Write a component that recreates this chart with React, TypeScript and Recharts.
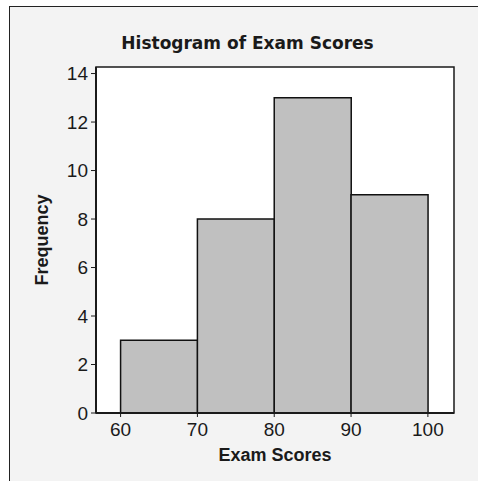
import {
  Bar,
  ComposedChart,
  ReferenceArea,
  XAxis,
  YAxis,
} from "recharts";

// bin midpoints (60-70, 70-80, 80-90, 90-100) and their counts
const binMids = [65, 75, 85, 95];
const counts = [3, 8, 13, 9];
const xTicks = [60, 70, 80, 90, 100];
const yTicks = [0, 2, 4, 6, 8, 10, 12, 14];
const xDomain = [56.8, 103.4];
const yDomain = [0, 14.27];

const data = binMids.map((mid, i) => ({ mid, count: counts[i] }));

const ink = "#1a1a1a";
const tickFont = { fill: ink, fontSize: 19, fontFamily: "Liberation Sans, Arial, sans-serif" };

function FrequencyLabel(props: any) {
  const vb = props.viewBox || {};
  const x = vb.x + 12;
  const y = vb.y + vb.height / 2;
  return (
    <text
      x={x}
      y={y}
      transform={`rotate(-90, ${x}, ${y})`}
      textAnchor="middle"
      fill={ink}
      fontSize={18}
      fontWeight="bold"
      fontFamily="Liberation Sans, Arial, sans-serif"
    >
      Frequency
    </text>
  );
}

export default function App() {
  return (
    <div style={{ position: "absolute", left: 0, top: 0, width: 478, height: 481, overflow: "hidden" }}>
      <div
        style={{
          position: "absolute",
          left: 9,
          top: 6,
          width: 480,
          height: 480,
          background: "#f3f3f3",
          borderLeft: "1px solid #222",
          borderTop: "1px solid #222",
        }}
      />
      <div
        style={{
          position: "absolute",
          left: 9,
          top: 33,
          width: 477,
          textAlign: "center",
          lineHeight: "20px",
          fontSize: 17,
          fontWeight: "bold",
          fontFamily: "DejaVu Sans, Verdana, sans-serif",
          color: ink,
        }}
      >
        Histogram of Exam Scores
      </div>
      <div style={{ position: "absolute", left: 0, top: 0 }}>
        <ComposedChart
          width={478}
          height={481}
          data={data}
          margin={{ top: 67, right: 24, bottom: 8, left: 36 }}
          barCategoryGap={0}
          barGap={0}
        >
          <XAxis
            dataKey="mid"
            type="number"
            domain={xDomain}
            ticks={xTicks}
            allowDataOverflow
            height={60}
            tickSize={4}
            tickMargin={6}
            tick={tickFont}
            axisLine={{ stroke: ink, strokeWidth: 2 }}
            tickLine={{ stroke: ink }}
            label={{
              value: "Exam Scores",
              position: "insideBottom",
              offset: 12,
              fill: ink,
              fontSize: 18,
              fontWeight: "bold",
              fontFamily: "Liberation Sans, Arial, sans-serif",
            }}
          />
          <YAxis
            domain={yDomain}
            ticks={yTicks}
            allowDataOverflow
            width={60}
            tickSize={5}
            tickMargin={3}
            tick={tickFont}
            axisLine={{ stroke: ink, strokeWidth: 2 }}
            tickLine={{ stroke: ink }}
            label={<FrequencyLabel />}
          />
          <ReferenceArea
            x1={xDomain[0]}
            x2={xDomain[1]}
            y1={yDomain[0]}
            y2={yDomain[1]}
            fill="#ffffff"
            fillOpacity={1}
            stroke={ink}
            strokeWidth={1.5}
            ifOverflow="visible"
          />
          <Bar
            dataKey="count"
            fill="#c0c0c0"
            stroke="#111"
            strokeWidth={1.5}
            isAnimationActive={false}
          />
        </ComposedChart>
      </div>
    </div>
  );
}
